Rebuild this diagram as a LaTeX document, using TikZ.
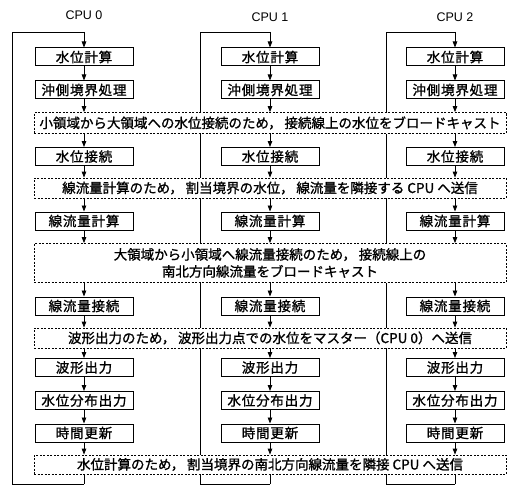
\documentclass[tikz,border=0pt]{standalone}
\usepackage{fontspec}
\setmainfont{Noto Sans CJK JP}
\newfontfamily\jpbold[FakeBold=1.2]{Noto Sans CJK JP}
\newfontfamily\jpboxfont[FakeBold=1.2,LetterSpace=6]{Noto Sans CJK JP}
\setsansfont{Liberation Sans}
\usetikzlibrary{arrows.meta}
\begin{document}
\begin{tikzpicture}[x=1pt,y=-1pt,
  proc/.style={draw,line width=1pt,fill=white,minimum width=98pt,minimum height=18pt,inner sep=0pt,font=\jpboxfont\fontsize{13.5}{15}\selectfont},
  note/.style={draw,line width=0.8pt,dash pattern=on 2pt off 1.5pt,fill=white,minimum width=472pt,inner sep=0pt,font=\jpbold\fontsize{13.5}{17}\selectfont,align=center},
  flow/.style={line width=0.8pt,-{Triangle[length=6pt,width=4.5pt]}},
  loopline/.style={line width=0.8pt},
  cpu/.style={font=\sffamily\fontsize{12.5}{14}\selectfont}]
\useasboundingbox (0,0) rectangle (517,487);
\def\xa{84}\def\xb{270}\def\xc{455}
\foreach \c/\l in {0/12,1/200,2/386}{
  \coordinate (lt\c) at (\l,32);
  \coordinate (lb\c) at (\l,484);
}
\coordinate (ct0) at (\xa,32); \coordinate (cb0) at (\xa,484);
\coordinate (ct1) at (\xb,32); \coordinate (cb1) at (\xb,484);
\coordinate (ct2) at (\xc,32); \coordinate (cb2) at (\xc,484);
\foreach \c in {0,1,2}{
  \draw[loopline] (cb\c) -- (lb\c) -- (lt\c) -- (ct\c);
}
% notes
\node[note,minimum height=21pt] (d1) at (270,123) {小領域から大領域への水位接続のため，\hspace{0.2em}接続線上の水位をブロードキャスト};
\node[note,minimum height=20pt] (d2) at (270,188) {線流量計算のため，\hspace{0.2em}割当境界の水位，\hspace{0.2em}線流量を隣接する CPU へ送信};
\node[note,minimum height=39pt] (d3) at (270,263) {大領域から小領域へ線流量接続のため，\hspace{0.2em}接続線上の\\南北方向線流量をブロードキャスト};
\node[note,minimum height=20pt] (d4) at (270,338) {波形出力のため，\hspace{0.2em}波形出力点での水位をマスター（CPU 0）へ送信};
\node[note,minimum height=19pt] (d5) at (270,464.5) {水位計算のため，\hspace{0.2em}割当境界の南北方向線流量を隣接 CPU へ送信};
% CPU labels
\node[cpu] (cpu0) at (\xa,15) {CPU 0};
\node[cpu] (cpu1) at (\xb,17) {CPU 1};
\node[cpu] (cpu2) at (\xc,17) {CPU 2};
\foreach \c/\x in {0/\xa,1/\xb,2/\xc}{
  \node[proc] (a\c) at (\x,57) {水位計算};
  \node[proc] (b\c) at (\x,90) {沖側境界処理};
  \node[proc] (c\c) at (\x,156.5) {水位接続};
  \node[proc] (e\c) at (\x,221) {線流量計算};
  \node[proc] (f\c) at (\x,306) {線流量接続};
  \node[proc] (g\c) at (\x,367.5) {波形出力};
  \node[proc] (h\c) at (\x,400.5) {水位分布出力};
  \node[proc] (i\c) at (\x,433) {時間更新};
  \draw[flow] (ct\c) -- (a\c.north);
  \draw[flow] (a\c.south) -- (b\c.north);
  \draw[flow] (b\c.south) -- (b\c.south |- d1.north);
  \draw[flow] (c\c.north |- d1.south) -- (c\c.north);
  \draw[flow] (c\c.south) -- (c\c.south |- d2.north);
  \draw[flow] (e\c.north |- d2.south) -- (e\c.north);
  \draw[flow] (e\c.south) -- (e\c.south |- d3.north);
  \draw[flow] (f\c.north |- d3.south) -- (f\c.north);
  \draw[flow] (f\c.south) -- (f\c.south |- d4.north);
  \draw[flow] (g\c.north |- d4.south) -- (g\c.north);
  \draw[flow] (g\c.south) -- (h\c.north);
  \draw[flow] (h\c.south) -- (i\c.north);
  \draw[flow] (i\c.south) -- (i\c.south |- d5.north);
  \draw[loopline] (i\c.south |- d5.south) -- (cb\c);
}
\end{tikzpicture}
\end{document}
